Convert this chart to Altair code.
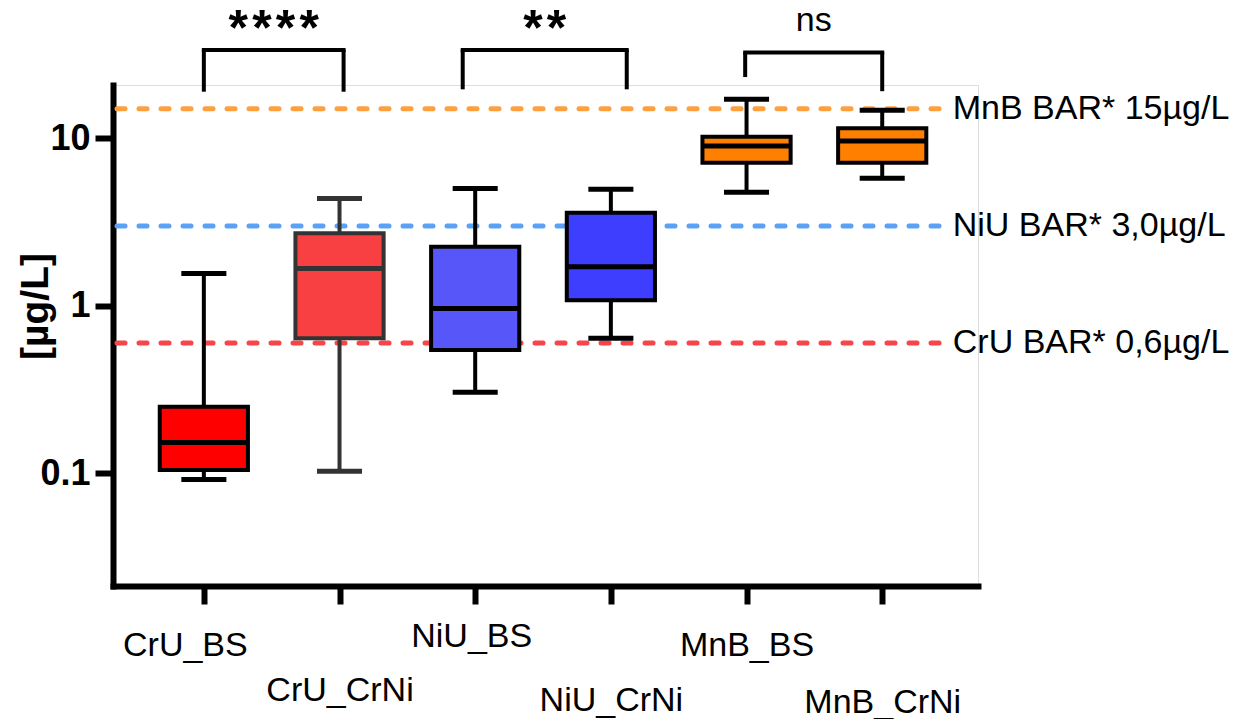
import altair as alt
import pandas as pd

# ---------------- data ----------------
names = ["CrU_BS", "CrU_CrNi", "NiU_BS", "NiU_CrNi", "MnB_BS", "MnB_CrNi"]
whisker_low = [0.092, 0.103, 0.305, 0.64, 4.77, 5.77]
q1_values = [0.105, 0.64, 0.545, 1.08, 7.15, 7.15]
median_values = [0.153, 1.67, 0.966, 1.71, 9.0, 9.63]
q3_values = [0.250, 2.71, 2.25, 3.60, 10.2, 11.5]
whisker_high = [1.56, 4.38, 5.02, 4.97, 17.1, 14.7]

box_fill = ["#FF0000", "#F84043", "#5757F9", "#3E3EFF", "#FF8000", "#FF8000"]
box_stroke = ["#000000", "#333333", "#000000", "#000000", "#000000", "#000000"]

ref_labels = ["MnB BAR* 15µg/L", "NiU BAR* 3,0µg/L", "CrU BAR* 0,6µg/L"]
ref_values = [15.0, 3.0, 0.6]
ref_colors = ["#FFA040", "#5BA2F7", "#F94449"]

sig_labels = ["*\u200a*\u200a*\u200a*", "*\u200a*", "ns"]
sig_left = [0.0, 1.908, 3.99]
sig_right = [1.03, 3.117, 5.0]
bracket_top = [33.7, 33.7, 32.5]
leg_left_end = [18.97, 19.6, 23.2]
leg_right_end = [18.97, 19.6, 19.1]
sig_text_level = [35.8, 35.8, 43.4]

tick_values = [0.1, 1, 10]
y_title = "[µg/L]"

# ---------------- tables ----------------
boxes = pd.DataFrame({
    "name": names, "pos": list(range(len(names))),
    "lo": whisker_low, "q1": q1_values, "med": median_values,
    "q3": q3_values, "hi": whisker_high,
    "fill": box_fill, "stroke": box_stroke,
})
refs = pd.DataFrame({"label": ref_labels, "value": ref_values, "color": ref_colors})
sigs = pd.DataFrame({
    "label": sig_labels, "left": sig_left, "right": sig_right,
    "top": bracket_top, "lend": leg_left_end, "rend": leg_right_end,
    "tlevel": sig_text_level, "is_ns": [False, False, True],
})

# ---------------- scales / axes ----------------
FONT = "Liberation Sans"
xscale = alt.Scale(domain=[-0.6696, 5.706], nice=False, zero=False)
yscale = alt.Scale(type="log", domain=[0.0213, 20.8], nice=False)

label_array = "[" + ",".join("'" + n + "'" for n in names) + "]"
pad_values = [41, 86, 32, 96, 41, 98]
off_values = [-19, 0, -4, 0, 0, 0]
label_pad = {"condition": [{"test": f"datum.value == {i}", "value": v} for i, v in enumerate(pad_values)], "value": 40}
label_off = {"condition": [{"test": f"datum.value == {i}", "value": v} for i, v in enumerate(off_values)], "value": 0}

xaxis = alt.Axis(
    values=list(range(len(names))), labelExpr=label_array + "[datum.value]",
    title=None, grid=False, domainColor="black", domainWidth=6, domainCap="square",
    tickColor="black", tickWidth=6, tickSize=18,
    labelFont=FONT, labelFontSize=34, labelColor="black",
    labelBaseline="middle", labelPadding=label_pad, labelOffset=label_off,
)
yaxis = alt.Axis(
    values=tick_values, format="~g", title=y_title, grid=False,
    domainColor="black", domainWidth=6, domainCap="square",
    tickColor="black", tickWidth=6, tickSize=18,
    labelFont=FONT, labelFontSize=36, labelFontWeight="bold", labelColor="black",
    labelPadding=5,
    titleFont=FONT, titleFontSize=39, titleFontWeight="bold", titleColor="black",
    titleX=-78, titleY=221, titleBaseline="middle", titleAngle=270,
)

def X(field, **kw):
    return alt.X(field, type="quantitative", scale=xscale, axis=xaxis, **kw)

def Y(field, **kw):
    return alt.Y(field, type="quantitative", scale=yscale, axis=yaxis, **kw)

base_box = alt.Chart(boxes).transform_calculate(
    xl="datum.pos - 0.325", xr="datum.pos + 0.325",
    cl="datum.pos - 0.166", cr="datum.pos + 0.166",
)

whisk = base_box.mark_rule(strokeWidth=4).encode(
    x=X("pos"), y=Y("lo"), y2="hi", stroke=alt.Stroke("stroke:N", scale=None)
)
cap_hi = base_box.mark_rule(strokeWidth=5).encode(
    x=X("cl"), x2="cr", y=Y("hi"), stroke=alt.Stroke("stroke:N", scale=None)
)
cap_lo = base_box.mark_rule(strokeWidth=5).encode(
    x=X("cl"), x2="cr", y=Y("lo"), stroke=alt.Stroke("stroke:N", scale=None)
)
box = base_box.mark_bar(strokeWidth=4).encode(
    x=X("xl"), x2="xr", y=Y("q1"), y2="q3",
    fill=alt.Fill("fill:N", scale=None), stroke=alt.Stroke("stroke:N", scale=None),
)
med = base_box.mark_rule(strokeWidth=5).encode(
    x=X("xl"), x2="xr", y=Y("med"), stroke=alt.Stroke("stroke:N", scale=None)
)

base_ref = alt.Chart(refs)
ref_lines = base_ref.mark_rule(strokeWidth=5, strokeDash=[8, 14], strokeCap="round").encode(
    x=alt.X(datum=-0.64, type="quantitative", scale=xscale, axis=xaxis),
    x2=alt.datum(5.44),
    y=Y("value"), stroke=alt.Stroke("color:N", scale=None),
)
ref_text = base_ref.mark_text(align="left", baseline="middle", font=FONT, fontSize=34, color="black").encode(
    x=alt.X(datum=5.52, type="quantitative", scale=xscale, axis=xaxis),
    y=Y("value"), text="label:N",
)

base_sig = alt.Chart(sigs)
br_top = base_sig.mark_rule(strokeWidth=4, color="black", strokeCap="square").encode(
    x=X("left"), x2="right", y=Y("top")
)
br_l = base_sig.mark_rule(strokeWidth=4, color="black").encode(
    x=X("left"), y=Y("lend"), y2="top"
)
br_r = base_sig.mark_rule(strokeWidth=4, color="black").encode(
    x=X("right"), y=Y("rend"), y2="top"
)
sig_star = base_sig.transform_filter("!datum.is_ns").transform_calculate(
    mid="(datum.left + datum.right) / 2"
).mark_text(baseline="alphabetic", font=FONT, fontSize=50, fontWeight="bold", color="black").encode(
    x=X("mid:Q"), y=Y("tlevel"), text="label:N"
)
sig_ns = base_sig.transform_filter("datum.is_ns").transform_calculate(
    mid="(datum.left + datum.right) / 2"
).mark_text(baseline="alphabetic", font=FONT, fontSize=34, color="black").encode(
    x=X("mid:Q"), y=Y("tlevel"), text="label:N"
)

chart = alt.layer(
    ref_lines, whisk, cap_hi, cap_lo, box, med, ref_text, br_top, br_l, br_r, sig_star, sig_ns
).properties(
    width=865, height=501,
    padding={"left": 113, "top": 85, "right": 264, "bottom": 133},
    autosize=alt.AutoSizeParams(type="none"),
    background="white",
).configure_view(stroke=None).configure(font=FONT)

chart.save("out.html", embed_options={"renderer": "svg", "actions": False})
